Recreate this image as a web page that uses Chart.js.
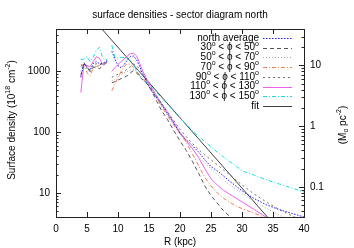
<!DOCTYPE html>
<html>
<head>
<meta charset="utf-8">
<script src="https://cdn.jsdelivr.net/npm/chart.js@4.4.1/dist/chart.umd.min.js"></script>
<style>
html, body { margin: 0; padding: 0; background: #fff; }
</style>
</head>
<body>
<canvas id="sectorChart" width="354" height="248"></canvas>
<script>
// radius (kpc), shared by all sectors; 8.6 is the gap in the data
const radius = [4, 4.5, 5, 5.5, 6, 6.5, 7, 7.5, 8, 8.25, 8.6,
    9, 9.5, 10, 10.5, 11, 11.5, 12, 12.5, 13, 13.5, 14,
    15, 16, 17, 18, 19, 20, 21, 22, 23, 24, 25, 26, 27, 28, 29, 30,
    32, 34, 36, 38, 40];

// surface density (10^18 cm^-2)
const northAverage = [800, 1350, 1200, 1050, 1350, 1450, 1350, 1350, 1450, 1500, null,
    2150, 1600, 1250, 1150, 1300, 1550, 1750, 1800, 1550, 1200, 900,
    560, 400, 290, 200, 140, 95, 75, 60, 47, 35, 27, 23, 19, 15.5, 13, 10.8,
    8, 6.3, 5.3, 4.6, 4.0];
const sector30to50 = [850, 1400, 1150, 1000, 1150, 1200, 1100, 1250, 1350, 1400, null,
    650, 680, 720, 760, 800, 850, 950, 1030, 950, 820, 720,
    580, 360, 230, 160, 105, 72, 50, 33, 21, 13, 9, 6.8, 5.1, 4.1, 3.3, null,
    null, null, null, null, null];
const sector50to70 = [1000, 1300, 1100, 1050, 1200, 1300, 1250, 1300, 1400, 1450, null,
    700, 750, 820, 900, 950, 1000, 1050, 1080, 1080, 1000, 850,
    580, 400, 280, 195, 135, 95, 70, 52, 40, 31, 25, 20, 16.5, 13.5, 11.5, 9.8,
    7.3, 5.5, 4.3, 3.5, null];
const sector70to90 = [1300, 1250, 950, 850, 1150, 1200, 1250, 1350, 1400, 1450, null,
    480, 620, 800, 1000, 1200, 1350, 1300, 1150, 1000, 880, 780,
    560, 390, 270, 185, 130, 95, 68, 44, 28, 18, 13, 10, 8.2, 7, 6.1, 5.5,
    4.6, 3.8, null, null, null];
const sector90to110 = [1200, 1400, 1150, 1000, 1250, 1350, 1300, 1300, 1400, 1450, null,
    800, 850, 900, 950, 1000, 1100, 1200, 1300, 1250, 1100, 900,
    600, 420, 300, 215, 155, 112, 85, 65, 52, 42, 35, 29, 24, 20, 16.5, 13.5,
    9.5, 7, 5.3, 4.2, 3.4];
const sector110to130 = [450, 1300, 1250, 1200, 1450, 1750, 1650, 1300, 1400, 1500, null,
    1000, 1150, 1300, 1450, 1600, 1800, 1950, 2000, 1800, 1350, 1000,
    640, 430, 300, 210, 145, 100, 72, 54, 38, 25, 17, 13.5, 11, 9.5, 8.2, 7.1,
    5.3, 3.9, null, null, null];
const sector130to150 = [1550, 1600, 1750, 1450, 1700, 2200, 2500, 1700, 1550, 1600, null,
    2700, 1700, 1650, 1700, 1700, 1650, 1500, 1350, 1000, 850, 720,
    620, 480, 370, 285, 220, 170, 135, 105, 85, 70, 57, 47, 39, 33, 28, 23,
    19.5, 16.3, 14, 12, 10.3];

// exponential fit, end points
const fitRadius = [7.4, 34.1];
const fitValues = [5000, 4];

// tick labels
const xTicks = [0, 5, 10, 15, 20, 25, 30, 35, 40];
const yTicks = [10, 100, 1000];
const y2Ticks = [0.1, 1, 10];
// 10^18 cm^-2 per Msun pc^-2
const cm2PerMsun = 125.4;

const yMin = 4, yMax = 5000;
const FONT = '"Liberation Sans", Arial, sans-serif';

function pts(xs, ys) {
    return xs.map((x, i) => ({x: x, y: ys[i]}));
}

function line(label, ys, color, dash, xs) {
    return {
        label: label,
        data: pts(xs || radius, ys),
        borderColor: color,
        backgroundColor: color,
        borderWidth: 1,
        borderDash: dash,
        pointRadius: 0,
        fill: false,
        tension: 0,
        spanGaps: false
    };
}

var datasets = [
    line('north average', northAverage, '#1a1aff', [1.5, 1.5]),
    line('30° < ϕ < 50°', sector30to50, '#555555', [4, 3]),
    line('50° < ϕ < 70°', sector50to70, '#a8a8a8', [1, 2]),
    line('70° < ϕ < 90°', sector70to90, '#f47c50', [4, 2, 1, 2]),
    line('90° < ϕ < 110°', sector90to110, '#707070', [2, 3]),
    line('110° < ϕ < 130°', sector110to130, '#f060f0', []),
    line('130° < ϕ < 150°', sector130to150, '#10dede', [4, 2, 1, 2]),
    line('fit', fitValues, '#404040', [], fitRadius)
];

// text with superscript / subscript pieces: [text, shift]
function richParts(label) {
    var out = [];
    label.split('°').forEach(function (p, i, arr) {
        if (p) out.push([p, 0]);
        if (i < arr.length - 1) out.push(['o', 1]);
    });
    return out;
}

function richWidth(ctx, parts, size) {
    var w = 0;
    parts.forEach(function (p) {
        ctx.font = (p[1] ? size * 0.7 : size) + 'px ' + FONT;
        w += ctx.measureText(p[0]).width;
    });
    return w;
}

function drawRich(ctx, parts, x, y, size) {
    parts.forEach(function (p) {
        var s = p[1] ? size * 0.7 : size;
        ctx.font = s + 'px ' + FONT;
        var dy = p[1] === 1 ? -size * 0.4 : (p[1] === -1 ? size * 0.3 : 0);
        ctx.fillText(p[0], x, y + dy);
        x += ctx.measureText(p[0]).width;
    });
}

function minorTicks(min, max) {
    var out = [];
    for (var d = Math.floor(Math.log10(min)); d <= Math.ceil(Math.log10(max)); d++) {
        for (var k = 1; k < 10; k++) {
            var v = k * Math.pow(10, d);
            if (v >= min && v <= max) out.push([v, k === 1]);
        }
    }
    return out;
}

const decorations = {
    id: 'decorations',
    afterDraw(chart) {
        const ctx = chart.ctx, a = chart.chartArea;
        const sx = chart.scales.x, sy = chart.scales.y, sy2 = chart.scales.y2;
        ctx.save();
        ctx.strokeStyle = '#222';
        ctx.lineWidth = 1;
        ctx.setLineDash([]);
        ctx.strokeRect(Math.round(a.left) + 0.5, Math.round(a.top) + 0.5,
            Math.round(a.right - a.left), Math.round(a.bottom - a.top));

        ctx.beginPath();
        xTicks.forEach(function (v) {
            var px = Math.round(sx.getPixelForValue(v)) + 0.5;
            ctx.moveTo(px, a.bottom); ctx.lineTo(px, a.bottom - 5);
            ctx.moveTo(px, a.top); ctx.lineTo(px, a.top + 5);
        });
        minorTicks(yMin, yMax).forEach(function (t) {
            var py = Math.round(sy.getPixelForValue(t[0])) + 0.5;
            ctx.moveTo(a.left, py); ctx.lineTo(a.left + (t[1] ? 5 : 2.5), py);
        });
        minorTicks(sy2.min, sy2.max).forEach(function (t) {
            var py = Math.round(sy2.getPixelForValue(t[0])) + 0.5;
            ctx.moveTo(a.right, py); ctx.lineTo(a.right - (t[1] ? 5 : 2.5), py);
        });
        ctx.stroke();

        ctx.fillStyle = '#000';
        ctx.textBaseline = 'middle';
        ctx.textAlign = 'center';
        ctx.font = '10px ' + FONT;
        ctx.fillText('surface densities - sector diagram north', 180, 15);
        ctx.fillText('R (kpc)', 180, 242);

        ctx.textAlign = 'left';
        // left axis title
        var yParts = [['Surface density (10', 0], ['18', 1], [' cm', 0], ['-2', 1], [')', 0]];
        ctx.save();
        ctx.translate(12, 120);
        ctx.rotate(-Math.PI / 2);
        drawRich(ctx, yParts, -richWidth(ctx, yParts, 10) / 2, 0, 10);
        ctx.restore();
        // right axis title
        var y2Parts = [['(M', 0], ['o', -1], [' pc', 0], ['-2', 1], [')', 0]];
        ctx.save();
        ctx.translate(343, 125);
        ctx.rotate(-Math.PI / 2);
        drawRich(ctx, y2Parts, -richWidth(ctx, y2Parts, 10) / 2, 0, 10);
        ctx.restore();

        // legend: text right aligned, sample to the right
        chart.data.datasets.forEach(function (ds, i) {
            var y = 38 + i * 9.7;
            var parts = richParts(ds.label);
            ctx.fillStyle = '#000';
            drawRich(ctx, parts, 259 - richWidth(ctx, parts, 10), y, 10);
            ctx.strokeStyle = ds.borderColor;
            ctx.setLineDash(ds.borderDash);
            ctx.beginPath();
            ctx.moveTo(263, Math.round(y) + 0.5);
            ctx.lineTo(292, Math.round(y) + 0.5);
            ctx.stroke();
        });
        ctx.restore();
    }
};

new Chart(document.getElementById('sectorChart').getContext('2d'), {
    type: 'line',
    data: {datasets: datasets},
    options: {
        responsive: false,
        devicePixelRatio: 1,
        animation: false,
        layout: {padding: {top: 29, left: 0, right: 0, bottom: 0}},
        plugins: {legend: {display: false}, title: {display: false}, tooltip: {enabled: false}},
        scales: {
            x: {
                type: 'linear', min: 0, max: 40,
                grid: {display: false, drawTicks: false},
                border: {display: false},
                afterBuildTicks: function (s) { s.ticks = xTicks.map(v => ({value: v})); },
                afterFit: function (s) { s.height = 31; },
                ticks: {color: '#000', font: {family: FONT, size: 10}, padding: 6, maxRotation: 0, autoSkip: false}
            },
            y: {
                type: 'logarithmic', position: 'left', min: yMin, max: yMax,
                grid: {display: false, drawTicks: false},
                border: {display: false},
                afterBuildTicks: function (s) { s.ticks = yTicks.map(v => ({value: v})); },
                afterFit: function (s) { s.width = 56; },
                ticks: {color: '#000', font: {family: FONT, size: 10}, padding: 6, autoSkip: false,
                    callback: v => String(v)}
            },
            y2: {
                type: 'logarithmic', position: 'right', min: yMin / cm2PerMsun, max: yMax / cm2PerMsun,
                grid: {display: false, drawTicks: false},
                border: {display: false},
                afterBuildTicks: function (s) { s.ticks = y2Ticks.map(v => ({value: v})); },
                afterFit: function (s) { s.width = 50; },
                ticks: {color: '#000', font: {family: FONT, size: 10}, padding: 6, autoSkip: false,
                    callback: v => String(v)}
            }
        }
    },
    plugins: [decorations]
});
</script>
</body>
</html>
